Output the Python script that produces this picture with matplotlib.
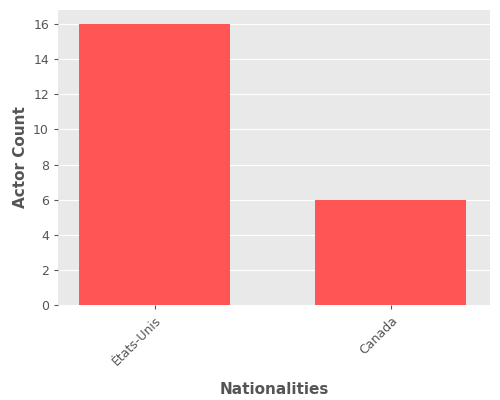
import matplotlib

matplotlib.use("Agg")
import matplotlib.pyplot as plt

nationalities = ["États-Unis", "Canada"]
actor_counts = [16, 6]

fig, ax = plt.subplots(figsize=(5, 4), dpi=100)
fig.subplots_adjust(left=0.116, right=0.98, top=0.975, bottom=0.2375)

ax.set_facecolor("#E9E9E9")
ax.bar(range(len(nationalities)), actor_counts, width=0.64, color="#FF5555", zorder=3)

ax.set_xlim(-0.41, 1.42)
ax.set_ylim(0, 16.8)
ax.set_yticks(range(0, 17, 2))
ax.set_xticks(range(len(nationalities)))
ax.set_xticklabels(nationalities, rotation=45, ha="right", rotation_mode="anchor")

ax.grid(axis="y", color="white", linewidth=0.8, zorder=0)
for s in ax.spines.values():
    s.set_visible(False)
ax.tick_params(colors="#555555", labelcolor="#555555", labelsize=9, length=3)

ax.set_xlabel("Nationalities", fontsize=11, fontweight="bold", color="#555555", labelpad=10)
ax.set_ylabel("Actor Count", fontsize=11, fontweight="bold", color="#555555")

fig.savefig("out.png", dpi=100)
